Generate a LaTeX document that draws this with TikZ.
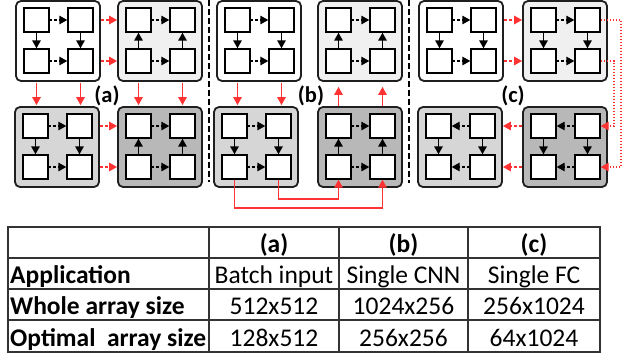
\documentclass[tikz,border=0pt]{standalone}
\usepackage{fontspec}
\setmainfont{Carlito}
\usetikzlibrary{arrows.meta,calc}
\definecolor{redc}{HTML}{FF3333}
\definecolor{gA}{HTML}{F0F0F0}
\definecolor{gB}{HTML}{D6D6D6}
\definecolor{gC}{HTML}{B8B8B8}
\definecolor{tl}{HTML}{333333}
\tikzset{
  blockbox/.style={draw=black!88,line width=1.8pt,rounded corners=5pt,minimum width=84pt,minimum height=80pt,inner sep=0pt},
  pe/.style={draw=black,fill=white,line width=1.4pt,minimum width=25pt,minimum height=24pt,inner sep=0pt},
  tipA/.style={-{Triangle[length=8pt,width=8.5pt]}},
  varr/.style={line width=1.5pt,tipA},
  harr/.style={line width=1.4pt,dash pattern=on 2.5pt off 2pt,tipA},
  rarr/.style={draw=redc,line width=1.4pt,tipA},
  rdash/.style={rarr,dash pattern=on 3pt off 2pt},
  rdot/.style={rarr,line width=1.2pt,dash pattern=on 1.5pt off 1.5pt},
  sepline/.style={line width=1.8pt,dash pattern=on 6pt off 3pt},
  tline/.style={draw=tl,line width=1.1pt},
  lbl/.style={font=\fontsize{22.5}{26}\selectfont\bfseries,inner sep=0pt},
  tcell/.style={font=\fontsize{25.5}{29}\selectfont,inner sep=0pt,anchor=base},
  thead/.style={tcell,font=\fontsize{25.5}{29}\selectfont\bfseries},
  trow/.style={thead,anchor=base west}
}
\newcommand{\pebox}[4]{%
  \node[blockbox,fill=#4] (#1) at ({#2+42},{#3+40}) {};
  \node[pe] (#1-1) at ({#2+20.5},{#3+19}) {};
  \node[pe] (#1-2) at ({#2+64.5},{#3+19}) {};
  \node[pe] (#1-3) at ({#2+20.5},{#3+60}) {};
  \node[pe] (#1-4) at ({#2+64.5},{#3+60}) {};
}
\newcommand{\flowdown}[1]{\draw[varr] (#1-1) -- (#1-3); \draw[varr] (#1-2) -- (#1-4);}
\newcommand{\flowup}[1]{\draw[varr] (#1-3) -- (#1-1); \draw[varr] (#1-4) -- (#1-2);}
\newcommand{\flowright}[1]{\draw[harr] (#1-1) -- (#1-2); \draw[harr] (#1-3) -- (#1-4);}
\newcommand{\flowleft}[1]{\draw[harr] (#1-2) -- (#1-1); \draw[harr] (#1-4) -- (#1-3);}
\begin{document}
\begin{tikzpicture}[x=1pt,y=-1pt]
\useasboundingbox (0,0) rectangle (638,360);
\fill[white] (0,0) rectangle (638,360);

% ---------- (a) ----------
\pebox{aTL}{16}{1}{white}
\pebox{aTR}{118}{1}{gA}
\pebox{aBL}{15}{107}{gB}
\pebox{aBR}{118}{107}{gC}
\flowdown{aTL}\flowright{aTL}
\flowup{aTR}\flowright{aTR}
\flowdown{aBL}\flowright{aBL}
\flowup{aBR}\flowright{aBR}
\draw[rdash] (aTL.east |- aTL-2) -- (aTR.west |- aTL-2);
\draw[rdash] (aTL.east |- aTL-4) -- (aTR.west |- aTL-4);
\draw[rdash] (aBL.east |- aBL-2) -- (aBR.west |- aBL-2);
\draw[rdash] (aBL.east |- aBL-4) -- (aBR.west |- aBL-4);
\draw[rarr,shorten <=1.5pt,shorten >=1pt] (aTL.south -| aTL-3) -- (aBL.north -| aTL-3);
\draw[rarr,shorten <=1.5pt,shorten >=1pt] (aTL.south -| aTL-4) -- (aBL.north -| aTL-4);
\draw[rarr,shorten <=1.5pt,shorten >=1pt] (aTR.south -| aTR-3) -- (aBR.north -| aTR-3);
\draw[rarr,shorten <=1.5pt,shorten >=1pt] (aTR.south -| aTR-4) -- (aBR.north -| aTR-4);
\node[lbl] (la) at (107,95.5) {(a)};

% ---------- (b) ----------
\pebox{bTL}{217}{1}{white}
\pebox{bTR}{318}{1}{gA}
\pebox{bBL}{214}{107}{gB}
\pebox{bBR}{318}{107}{gC}
\flowdown{bTL}\flowright{bTL}
\flowup{bTR}\flowright{bTR}
\flowdown{bBL}\flowright{bBL}
\flowup{bBR}\flowright{bBR}
\draw[rarr,shorten <=1.5pt,shorten >=1pt] (bTL.south -| bTL-3) -- (bBL.north -| bTL-3);
\draw[rarr,shorten <=1.5pt,shorten >=1pt] (bTL.south -| bTL-4) -- (bBL.north -| bTL-4);
\draw[rarr,shorten >=5pt] (bBR.north -| bBR-1) -- (bTR.south -| bBR-1);
\draw[rarr,shorten >=5pt] (bBR.north -| bBR-2) -- (bTR.south -| bBR-2);
\coordinate (busOuter) at (0,208);
\coordinate (busInner) at (0,199);
\draw[rarr] (bBL-3.south) -- (bBL-3.south |- busOuter) -| (bBR-4.south);
\draw[rarr] (bBL-4.south) -- (bBL-4.south |- busInner) -| (bBR-3.south);
\node[lbl] (lb) at (311,95.5) {(b)};

% ---------- (c) ----------
\pebox{cTL}{419}{1}{white}
\pebox{cTR}{523}{1}{gA}
\pebox{cBL}{418}{107}{gB}
\pebox{cBR}{523}{107}{gC}
\flowdown{cTL}\flowright{cTL}
\flowdown{cTR}\flowright{cTR}
\flowdown{cBL}\flowleft{cBL}
\flowdown{cBR}\flowleft{cBR}
\draw[rdash] (cTL.east |- cTL-2) -- (cTR.west |- cTL-2);
\draw[rdash] (cTL.east |- cTL-4) -- (cTR.west |- cTL-4);
\draw[rdash] (cBR.west |- cBR-1) -- (cBL.east |- cBR-1);
\draw[rdash] (cBR.west |- cBR-3) -- (cBL.east |- cBR-3);
\coordinate (loopOuter) at (621,0);
\coordinate (loopInner) at (614,0);
\draw[rdot] (cTR-2.east) -- (cTR-2.east -| loopOuter) |- (cBR-4.east);
\draw[rdot] (cTR-4.east) -- (cTR-4.east -| loopInner) |- (cBR-2.east);
\node[lbl] (lc) at (513,95.5) {(c)};

% ---------- separators ----------
\draw[sepline] (209,0) -- (209,182);
\draw[sepline] (409,0) -- (409,183);

% ---------- table ----------
\draw[tline] (8,227) rectangle (600,352);
\foreach \yy in {258,289,320} \draw[tline] (8,\yy) -- (600,\yy);
\foreach \xx in {209,339,468} \draw[tline] (\xx,227) -- (\xx,352);

\node[thead] (h1) at (274,252.5) {(a)};
\node[thead] (h2) at (403.5,252.5) {(b)};
\node[thead] (h3) at (534,252.5) {(c)};

\node[trow] (r1) at (10,283.5) {Application};
\node[tcell] (r1a) at (274,283.5) {Batch input};
\node[tcell] (r1b) at (403.5,283.5) {Single CNN};
\node[tcell] (r1c) at (534,283.5) {Single FC};

\node[trow] (r2) at (10,314.5) {Whole array size};
\node[tcell] (r2a) at (274,314.5) {512x512};
\node[tcell] (r2b) at (403.5,314.5) {1024x256};
\node[tcell] (r2c) at (534,314.5) {256x1024};

\node[trow] (r3) at (10,346.5) {Optimal\ \ array size};
\node[tcell] (r3a) at (274,346.5) {128x512};
\node[tcell] (r3b) at (403.5,346.5) {256x256};
\node[tcell] (r3c) at (534,346.5) {64x1024};
\end{tikzpicture}
\end{document}
